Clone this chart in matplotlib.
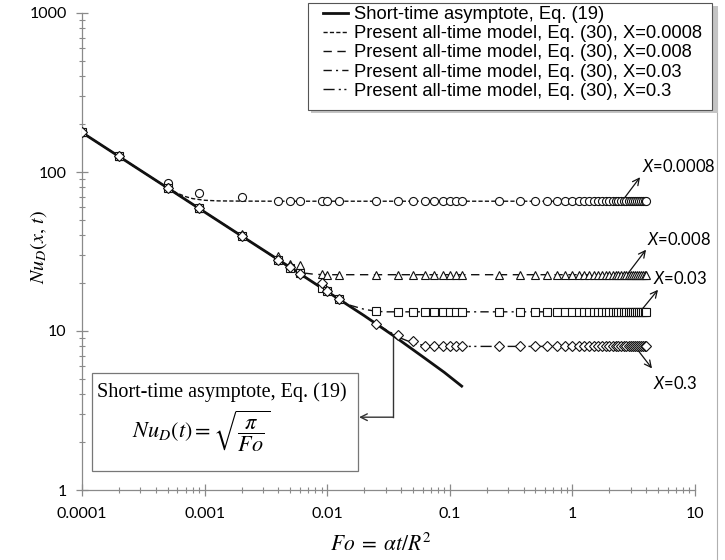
import matplotlib
matplotlib.use('Agg')
import matplotlib.pyplot as plt
from matplotlib.patches import Rectangle
from matplotlib.lines import Line2D

plt.rcParams['font.family'] = ['Lato', 'DejaVu Sans']
plt.rcParams['mathtext.fontset'] = 'custom'
plt.rcParams['mathtext.it'] = 'Lato:italic'
plt.rcParams['mathtext.rm'] = 'Lato'

# ---------------- data ----------------
x_ticks = [0.0001, 0.001, 0.01, 0.1, 1, 10]
x_tick_labels = ['0.0001', '0.001', '0.01', '0.1', '1', '10']
y_ticks = [1, 10, 100, 1000]
y_tick_labels = ['1', '10', '100', '1000']

# short-time asymptote, Eq. (19)
fo_asym = [0.0001, 0.0002, 0.0005, 0.001, 0.002, 0.005, 0.01, 0.02, 0.035, 0.06, 0.09, 0.125]
nu_asym = [177.2, 125.3, 79.3, 56.0, 39.6, 25.1, 17.7, 12.5, 9.3, 6.9, 5.5, 4.5]

# present all-time model curves, Eq. (30)
fo_m1 = [0.0001, 0.0002, 0.0005, 0.0006, 0.0007, 0.0008, 0.001, 0.0013, 0.002, 0.004, 4.0]
nu_m1 = [177.2, 125.3, 79.3, 73.5, 70.0, 68.0, 66.4, 65.8, 65.6, 65.5, 65.5]
fo_m2 = [0.0001, 0.002, 0.004, 0.005, 0.006, 0.008, 0.01, 4.0]
nu_m2 = [177.2, 39.6, 27.9, 24.6, 23.3, 22.7, 22.6, 22.6]
fo_m3 = [0.0001, 0.002, 0.005, 0.01, 0.0125, 0.015, 0.02, 0.025, 0.03, 4.0]
nu_m3 = [177.2, 39.6, 25.1, 17.7, 15.9, 14.6, 13.7, 13.3, 13.2, 13.2]
fo_m4 = [0.0001, 0.005, 0.01, 0.02, 0.03, 0.04, 0.05, 0.0625, 0.075, 4.0]
nu_m4 = [177.2, 25.1, 17.7, 12.5, 10.2, 9.0, 8.4, 8.1, 8.0, 8.0]

# discrete points (markers)
fo_pts = [0.0001, 0.0002, 0.0005, 0.0009, 0.002, 0.004, 0.005, 0.006, 0.009, 0.01, 0.0125,
          0.025, 0.0375, 0.05, 0.0625, 0.075, 0.0875, 0.1, 0.1125, 0.125, 0.25, 0.375,
          0.5, 0.625, 0.75, 0.875, 1.0, 1.125, 1.25, 1.375, 1.5, 1.625, 1.75, 1.875,
          2.0, 2.125, 2.25, 2.375, 2.5, 2.625, 2.75, 2.875, 3.0, 3.125, 3.25, 3.375,
          3.5, 3.625, 3.75, 3.875, 4.0]
nu_circ = [177.2, 125.3, 85.0, 74.0, 69.5, 65.8, 65.6, 65.6, 65.5, 65.5, 65.5,
           65.5, 65.5, 65.5, 65.5, 65.5, 65.5, 65.5, 65.5, 65.5, 65.5, 65.5,
           65.5, 65.5, 65.5, 65.5, 65.5, 65.5, 65.5, 65.5, 65.5, 65.5, 65.5, 65.5,
           65.5, 65.5, 65.5, 65.5, 65.5, 65.5, 65.5, 65.5, 65.5, 65.5, 65.5, 65.5,
           65.5, 65.5, 65.5, 65.5, 65.5]
nu_tri = [177.2, 125.3, 80.5, 59.5, 40.8, 29.5, 26.5, 25.9, 22.8, 22.6, 22.6,
          22.6, 22.6, 22.6, 22.6, 22.6, 22.6, 22.6, 22.6, 22.6, 22.6, 22.6,
          22.6, 22.6, 22.6, 22.6, 22.6, 22.6, 22.6, 22.6, 22.6, 22.6, 22.6, 22.6,
          22.6, 22.6, 22.6, 22.6, 22.6, 22.6, 22.6, 22.6, 22.6, 22.6, 22.6, 22.6,
          22.6, 22.6, 22.6, 22.6, 22.6]
nu_sq = [177.2, 125.3, 79.3, 59.1, 39.6, 27.9, 25.0, 23.3, 18.7, 17.9, 16.0,
         13.3, 13.2, 13.2, 13.2, 13.2, 13.2, 13.2, 13.2, 13.2, 13.2, 13.2,
         13.2, 13.2, 13.2, 13.2, 13.2, 13.2, 13.2, 13.2, 13.2, 13.2, 13.2, 13.2,
         13.2, 13.2, 13.2, 13.2, 13.2, 13.2, 13.2, 13.2, 13.2, 13.2, 13.2, 13.2,
         13.2, 13.2, 13.2, 13.2, 13.2]
nu_dia = [177.2, 125.3, 79.3, 59.1, 39.6, 28.0, 25.1, 22.9, 20.1, 17.8, 15.9,
          11.0, 9.4, 8.6, 8.05, 8.0, 8.0, 8.0, 8.0, 8.0, 8.0, 8.0,
          8.0, 8.0, 8.0, 8.0, 8.0, 8.0, 8.0, 8.0, 8.0, 8.0, 8.0, 8.0,
          8.0, 8.0, 8.0, 8.0, 8.0, 8.0, 8.0, 8.0, 8.0, 8.0, 8.0, 8.0,
          8.0, 8.0, 8.0, 8.0, 8.0]

legend_labels = ['Short-time asymptote, Eq. (19)',
                 'Present all-time model, Eq. (30), X=0.0008',
                 'Present all-time model, Eq. (30), X=0.008',
                 'Present all-time model, Eq. (30), X=0.03',
                 'Present all-time model, Eq. (30), X=0.3']
x_labels_right = [r'$X$=0.0008', r'$X$=0.008', r'$X$=0.03', r'$X$=0.3']

# ---------------- figure ----------------
W, H = 725, 560
fig = plt.figure(figsize=(W / 100, H / 100), dpi=100)
ax = fig.add_axes([82 / W, 1 - 490 / H, (695 - 82) / W, (490 - 13) / H])
ax.set_xscale('log')
ax.set_yscale('log')
ax.set_xlim(1e-4, 10)
ax.set_ylim(1, 1000)

k = '#111111'
l_asym, = ax.plot(fo_asym, nu_asym, color=k, lw=2.0, zorder=3)
l1, = ax.plot(fo_m1, nu_m1, color=k, lw=1.0, dashes=(3, 1.6), zorder=2)
l2, = ax.plot(fo_m2, nu_m2, color=k, lw=1.0, dashes=(6, 4), zorder=2)
l3, = ax.plot(fo_m3, nu_m3, color=k, lw=1.0, dashes=(6, 3, 1.5, 3), zorder=2)
l4, = ax.plot(fo_m4, nu_m4, color=k, lw=1.0, dashes=(8, 3, 1.5, 2.5, 1.5, 3), zorder=2)

mk = dict(ls='none', mfc='white', mec=k, mew=0.8, zorder=4)
ax.plot(fo_pts, nu_circ, marker='o', ms=5.8, **mk)
ax.plot(fo_pts, nu_tri, marker='^', ms=6.2, **mk)
ax.plot(fo_pts, nu_sq, marker='s', ms=5.2, **mk)
ax.plot(fo_pts, nu_dia, marker='D', ms=4.6, **mk)

# axes styling
for s in ['top', 'right']:
    ax.spines[s].set_visible(False)
for s in ['left', 'bottom']:
    ax.spines[s].set_color('#8a8a8a')
    ax.spines[s].set_linewidth(0.9)
ax.set_xticks(x_ticks, x_tick_labels)
ax.set_yticks(y_ticks, y_tick_labels)
ax.tick_params(which='major', direction='inout', length=8, color='#8a8a8a', labelsize=11.5, width=0.9)
ax.tick_params(which='minor', direction='inout', length=4.5, color='#8a8a8a', width=0.8)
ax.tick_params(axis='x', which='major', pad=8)
ax.tick_params(axis='y', which='major', pad=7)
ax.xaxis.set_minor_formatter(matplotlib.ticker.NullFormatter())
ax.yaxis.set_minor_formatter(matplotlib.ticker.NullFormatter())

ax.set_xlabel(r'$Fo\;=\;\alpha t/R^2$', fontsize=15.5, math_fontfamily='stix')
ax.xaxis.set_label_coords((381 - 82) / 613, -(533 - 490) / 477)
ax.set_ylabel(r'$Nu_D(x,\,t)$', fontsize=14.5, math_fontfamily='stix')
ax.yaxis.set_label_coords((49 - 82) / 613, (490 - 247) / 477)

# legend: frame drawn separately (with an offset shadow)
fig.add_artist(Rectangle((311 / W, 1 - 113 / H), (715 - 308) / W, (110 - 3) / H,
                         transform=fig.transFigure, facecolor='#c4c4c4',
                         edgecolor='none', zorder=8))
fig.add_artist(Rectangle((308 / W, 1 - 110 / H), (712 - 308) / W, (110 - 3) / H,
                         transform=fig.transFigure, facecolor='white',
                         edgecolor='#555555', lw=0.8, zorder=9))
leg = fig.legend([l_asym, l1, l2, l3, l4], legend_labels, loc='upper left',
                 bbox_to_anchor=(323 / W, 1 - 6 / H), bbox_transform=fig.transFigure,
                 borderaxespad=0, borderpad=0, frameon=False,
                 prop={'family': 'Liberation Sans', 'size': 13.2},
                 handlelength=1.35, handletextpad=0.33, labelspacing=0.12)
leg.set_zorder(10)

# right-hand labels with arrows
tail_fo = [2.54, 2.79, 3.56, 3.24]
tail_nu = [65.5, 22.6, 13.2, 8.0]
arrow_off = [(18, 24), (19, 25), (18, 22), (17, -22)]
text_off = [(20, 35), (20, 35), (13, 33), (18, -37)]
for lab, f, n, ao, to in zip(x_labels_right, tail_fo, tail_nu, arrow_off, text_off):
    ax.annotate('', xy=(f, n), xytext=ao, textcoords='offset pixels',
                arrowprops=dict(arrowstyle='<-', color=k, lw=0.9, shrinkA=0, shrinkB=0,
                                mutation_scale=12))
    ax.annotate(lab, xy=(f, n), xytext=to, textcoords='offset pixels',
                fontsize=12, va='center', ha='left', annotation_clip=False)

# annotation box
box = Rectangle((92 / W, 1 - 471 / H), (358 - 92) / W, (471 - 373) / H,
                transform=fig.transFigure, facecolor='white', edgecolor='#777777',
                lw=0.9, zorder=5)
fig.add_artist(box)
fig.text(222 / W, 1 - 392 / H, 'Short-time asymptote, Eq. (19)', family='Liberation Serif',
         fontsize=14.5, ha='center', va='center', zorder=6)
fig.text(201 / W, 1 - 431 / H, r'$Nu_D(t) = \sqrt{\dfrac{\pi}{Fo}}$', math_fontfamily='stix',
         fontsize=16, ha='center', va='center', zorder=6)

# connector from asymptote to box
fo_c, nu_c_top, nu_c_bot, fo_box = 0.0344, 9.2, 2.87, 0.0182
ax.plot([fo_c, fo_c], [nu_c_top, nu_c_bot], color='#333333', lw=1.0, zorder=2)
ax.annotate('', xy=(fo_box, nu_c_bot), xytext=(fo_c, nu_c_bot),
            arrowprops=dict(arrowstyle='->', color='#333333', lw=1.0, shrinkA=0, shrinkB=0,
                            mutation_scale=12))

# thin frame line at the right edge of the chart area
fig.add_artist(Line2D([717 / W, 717 / W], [0, 1 - 12 / H], transform=fig.transFigure,
                      color='#b0b0b0', lw=0.8, zorder=7))

fig.savefig('out.png', dpi=100)
